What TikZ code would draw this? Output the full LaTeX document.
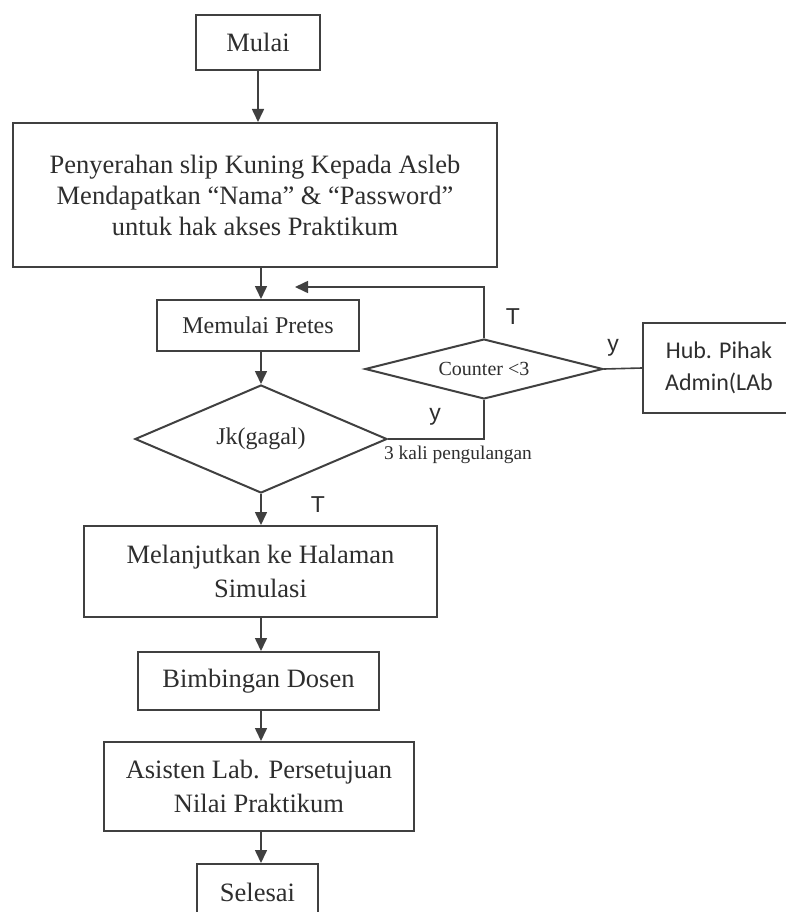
\documentclass[tikz,border=0pt]{standalone}
\usepackage{fontspec}
\setmainfont{Liberation Serif}
\newfontfamily\calibrifont{Carlito}
\newfontfamily\arialfont{Liberation Sans}
\usetikzlibrary{shapes.geometric,arrows.meta}

\definecolor{ink}{HTML}{2E2E2E}
\definecolor{edge}{HTML}{404040}

\begin{document}
\begin{tikzpicture}[x=1pt,y=-1pt,
  box/.style={draw=edge,line width=2pt,rectangle,inner sep=0pt,align=center,text=ink},
  decision/.style={draw=edge,line width=2pt,diamond,inner sep=0pt,text=ink},
  flow/.style={draw=edge,line width=1.6pt,-{Triangle[length=13pt,width=12pt]}},
  link/.style={draw=edge,line width=1.6pt},
  lbl/.style={text=ink,font=\arialfont\fontsize{23}{26}\selectfont,inner sep=0pt},
  bodyfont/.style={font=\fontsize{26.5}{34.5}\selectfont}
]
\useasboundingbox[fill=white] (0,0) rectangle (785,912);

% main column
\node[box,bodyfont,minimum width=124,minimum height=55] (mulai) at (258,42.5) {Mulai};
\node[box,minimum width=484,minimum height=144,font=\fontsize{26.5}{31}\selectfont] (serah) at (255,195)
  {Penyerahan slip Kuning Kepada Asleb\\Mendapatkan “Nama” \& “Password”\\untuk hak akses Praktikum};
\node[box,minimum width=202,minimum height=51,font=\fontsize{24}{28}\selectfont] (pretes) at (258,325.5) {Memulai Pretes};
\node[decision,aspect=2.3,minimum width=252,minimum height=108,font=\fontsize{24}{28}\selectfont] (jk) at (261,439) {Jk(gagal)};
\node[box,bodyfont,minimum width=353,minimum height=91] (lanjut) at (260.5,571.5) {Melanjutkan ke Halaman\\Simulasi};
\node[box,bodyfont,minimum width=241,minimum height=58] (dosen) at (258.5,681) {Bimbingan Dosen};
\node[box,bodyfont,minimum width=310,minimum height=89] (asisten) at (259,786.5) {Asisten Lab. Persetujuan\\Nilai Praktikum};
\node[box,bodyfont,minimum width=121,minimum height=56] (selesai) at (257.5,892) {Selesai};

% retry branch
\node[decision,aspect=4,minimum width=238,minimum height=60,font=\fontsize{20}{24}\selectfont] (counter) at (484,369) {Counter <3};
\node[box,minimum width=152,minimum height=90,font=\calibrifont\fontsize{24}{32}\selectfont] (admin) at (719,368) {Hub. Pihak\\Admin(LAb};

% connectors
\draw[flow] (mulai.south) -- (mulai.south |- serah.north);
\draw[flow] (serah.south -| jk.north) -- (pretes.north -| jk.north);
\draw[flow] (pretes.south -| jk.north) -- (jk.north);
\draw[flow] (jk.south) -- (jk.south |- lanjut.north);
\draw[flow] (lanjut.south -| jk.north) -- (dosen.north -| jk.north);
\draw[flow] (dosen.south -| jk.north) -- (asisten.north -| jk.north);
\draw[flow] (asisten.south -| jk.north) -- (selesai.north -| jk.north);
\coordinate (retur) at (295,287);
\draw[flow] (counter.north) |- (retur);
\draw[link] (counter.east) -- (admin.west);
\draw[link] (jk.east) -| (counter.south);

% branch labels
\node[lbl] (tloop) at (513,317) {T};
\node[lbl] (yadmin) at (613,348) {y};
\node[lbl] (yulang) at (435,417) {y};
\node[text=ink,font=\fontsize{19.4}{22}\selectfont,inner sep=0pt] (ulang) at (458,455) {3 kali pengulangan};
\node[lbl] (tlanjut) at (318,505) {T};
\end{tikzpicture}
\end{document}
